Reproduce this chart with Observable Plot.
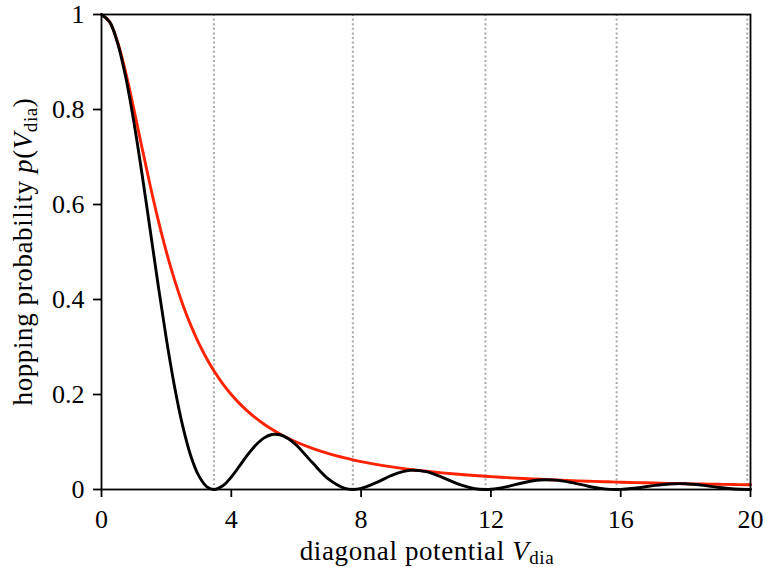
<!DOCTYPE html>
<html><head><meta charset="utf-8">
<script src="https://cdn.jsdelivr.net/npm/d3@7"></script>
<script src="https://cdn.jsdelivr.net/npm/@observablehq/plot@0.6"></script>
<style>body{margin:0;background:#fff}</style>
</head><body><div id="chart"></div>
<script>
// diagonal potential values (x)
const vDia = [0,0.25,0.5,0.75,1,1.25,1.5,1.75,2,2.25,2.5,2.75,3,3.25,3.464,3.75,4,4.25,4.5,4.75,5,5.25,5.5,5.75,6,6.5,7,7.5,7.746,8,8.5,9,9.5,10,10.5,11,11.5,11.832,12,12.5,13,13.5,14,14.5,15,15.5,15.875,16,16.5,17,17.5,18,18.5,19,19.5,19.9,20];
// black curve: hopping probability
const pBlack = [1,0.9845,0.9390,0.8668,0.7728,0.6636,0.5463,0.4283,0.3166,0.2170,0.1343,0.0712,0.0286,0.0057,0,0.0084,0.0263,0.0491,0.0727,0.0933,0.1082,0.1157,0.1152,0.1074,0.0937,0.0566,0.0217,0.0023,0,0.0022,0.0155,0.0315,0.0403,0.0375,0.0257,0.0115,0.0019,0,0.0005,0.0061,0.0143,0.0199,0.0198,0.0144,0.0069,0.0014,0,0.0002,0.0032,0.0081,0.0117,0.0121,0.0091,0.0046,0.0010,0,0.0001];
// red curve: envelope
const pRed = [1,0.9846,0.9412,0.8767,0.8,0.7191,0.64,0.5664,0.5,0.4414,0.3902,0.3460,0.3077,0.2747,0.25,0.2215,0.2,0.1813,0.1650,0.1506,0.1379,0.1267,0.1168,0.1079,0.1,0.0865,0.0755,0.0664,0.0625,0.0588,0.0525,0.0471,0.0424,0.0385,0.0350,0.0320,0.0294,0.0278,0.0270,0.0250,0.0231,0.0215,0.02,0.0187,0.0175,0.0164,0.0156,0.0154,0.0145,0.0137,0.0129,0.0122,0.0116,0.0110,0.0104,0.0100,0.0099];
// dotted vertical lines at zeros of the black curve
const zeroLines = [3.464, 7.746, 11.832, 15.875, 19.9];
const xTicks = [0, 4, 8, 12, 16, 20];
const yTicks = [0, 0.2, 0.4, 0.6, 0.8, 1];
const yTickLabels = ["0", "0.2", "0.4", "0.6", "0.8", "1"];

const blackData = vDia.map((v, i) => ({v, p: pBlack[i]}));
const redData = vDia.map((v, i) => ({v, p: pRed[i]}));

const FONT = "'Liberation Serif', serif";
const W = 766, H = 567;
const chart = Plot.plot({
  width: W, height: H,
  marginLeft: 101, marginRight: 16, marginTop: 14, marginBottom: 78,
  style: {fontFamily: FONT, fontSize: "26px", color: "#000", background: "#fff"},
  x: {domain: [0, 20], label: null},
  y: {domain: [0, 1], label: null},
  marks: [
    Plot.ruleX(zeroLines, {stroke: "#a8a8a8", strokeWidth: 2, strokeDasharray: "2,2.6"}),
    Plot.line(redData, {x: "v", y: "p", stroke: "#ff2200", strokeWidth: 2.9, curve: "catmull-rom"}),
    Plot.line(blackData, {x: "v", y: "p", stroke: "#000", strokeWidth: 2.9, curve: "catmull-rom"}),
    Plot.frame({stroke: "#000", strokeWidth: 1.8}),
    Plot.axisX({ticks: xTicks, tickSize: 8, tickPadding: 12, tickFormat: d => String(d), stroke: "#000", strokeWidth: 1.8, fontSize: 26}),
    Plot.axisY({ticks: yTicks, tickSize: 8, tickPadding: 9, tickFormat: d => yTickLabels[yTicks.indexOf(d)], stroke: "#000", strokeWidth: 1.8, fontSize: 26})
  ]
});
document.getElementById("chart").appendChild(chart);

const svg = d3.select(chart);
// x label
const xl = svg.append("text")
  .attr("x", 427).attr("y", 560)
  .attr("text-anchor", "middle")
  .attr("font-family", FONT)
  .attr("font-size", 27).attr("letter-spacing", 0.6).attr("fill", "#000");
xl.append("tspan").text("diagonal potential ");
xl.append("tspan").attr("font-style", "italic").text("V");
xl.append("tspan").attr("font-size", 19).attr("dy", 4).text("dia");

// y label
const yl = svg.append("text")
  .attr("transform", "translate(32,251.5) rotate(-90)")
  .attr("text-anchor", "middle")
  .attr("font-family", FONT)
  .attr("font-size", 27).attr("letter-spacing", 0.6).attr("fill", "#000");
yl.append("tspan").text("hopping probability ");
yl.append("tspan").attr("font-style", "italic").text("p");
yl.append("tspan").text("(");
yl.append("tspan").attr("font-style", "italic").text("V");
yl.append("tspan").attr("font-size", 19).attr("dy", 5).text("dia");
yl.append("tspan").attr("dy", -5).text(")");
</script>
</body></html>
